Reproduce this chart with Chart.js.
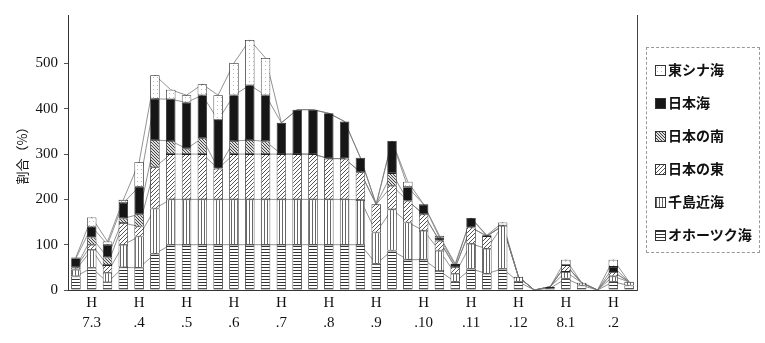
<!DOCTYPE html>
<html>
<head>
<meta charset="utf-8">
<script src="https://cdn.jsdelivr.net/npm/chart.js@4/dist/chart.umd.min.js"></script>
<style>
  body { margin: 0; background: #fff; }
  #wrap { position: relative; width: 765px; height: 343px; }
  #legend {
    position: absolute; left: 646px; top: 47px; width: 114px; height: 206px;
    border: 1px dashed #999; box-sizing: border-box;
    font-family: "Noto Sans CJK JP", sans-serif; font-size: 14px; font-weight: bold; color: #111;
  }
  .item { position: absolute; left: 8px; height: 16px; line-height: 16px; white-space: nowrap; }
  .item canvas { vertical-align: -1px; margin-right: 2px; border: 1px solid #333; }
</style>
</head>
<body>
<div id="wrap">
  <canvas id="chart" width="765" height="343"></canvas>
  <div id="legend"></div>
</div>
<script>
// 旬ごとの値 (H7.3 上旬 .. H8.2 下旬)
const months = ['7.3', '.4', '.5', '.6', '.7', '.8', '.9', '.10', '.11', '.12', '8.1', '.2'];
const dekads = ['上旬', '中旬', '下旬'];
const yTicks = [0, 100, 200, 300, 400, 500];

const okhotsk    = [30, 49, 17, 50, 49, 80, 100, 100, 100, 100, 100, 100, 100, 100, 100, 100, 100, 100, 100, 58, 87, 67, 67, 42, 18, 47, 36, 47, 18, 0, 4, 25, 10, 0, 18, 10];
const chishima   = [15, 40, 21, 50, 69, 100, 100, 100, 100, 100, 100, 100, 100, 100, 100, 100, 100, 100, 99, 69, 91, 82, 64, 45, 18, 55, 55, 95, 11, 0, 3, 15, 6, 0, 12, 8];
const nihonEast  = [5, 11, 17, 48, 22, 91, 100, 100, 100, 68, 100, 100, 100, 100, 100, 100, 90, 90, 61, 62, 52, 48, 36, 22, 14, 36, 28, 0, 0, 0, 0, 15, 0, 0, 10, 0];
const nihonSouth = [0, 16, 17, 10, 27, 60, 29, 12, 35, 0, 29, 31, 28, 0, 0, 0, 0, 0, 0, 0, 28, 0, 0, 0, 0, 0, 0, 0, 0, 0, 0, 0, 0, 0, 0, 0];
const nihonSea   = [20, 24, 28, 34, 61, 91, 92, 102, 95, 107, 101, 121, 102, 69, 98, 98, 100, 82, 32, 0, 71, 30, 22, 7, 5, 21, 0, 0, 0, 0, 0, 0, 0, 0, 11, 0];
const eastChina  = [2, 20, 7, 7, 54, 52, 21, 16, 24, 55, 71, 100, 82, 0, 0, 0, 0, 0, 0, 0, 0, 12, 0, 4, 3, 0, 2, 7, 0, 0, 0, 12, 0, 0, 16, 0];

const categories = months.flatMap(m => dekads.map(d => 'H' + m + d));
const tickLabels = months.map(m => ['H', m]);

// hatch patterns
function makePattern(kind) {
    const c = document.createElement('canvas');
    const g = c.getContext('2d');
    c.width = 4; c.height = 4;
    g.fillStyle = '#fff';
    g.fillRect(0, 0, 4, 4);
    if (kind === 'h') {
        c.height = 3;
        g.fillStyle = '#fff'; g.fillRect(0, 0, 4, 3);
        g.fillStyle = '#333'; g.fillRect(0, 0, 4, 1);
    } else if (kind === 'v') {
        c.width = 3;
        g.fillStyle = '#fff'; g.fillRect(0, 0, 3, 4);
        g.fillStyle = '#666'; g.fillRect(0, 0, 1, 4);
    } else if (kind === 'fwd') {
        g.fillStyle = '#555';
        [[3, 0], [2, 1], [1, 2], [0, 3]].forEach(p => g.fillRect(p[0], p[1], 1, 1));
    } else if (kind === 'back') {
        c.width = 3; c.height = 3;
        g.fillStyle = '#ddd'; g.fillRect(0, 0, 3, 3);
        g.fillStyle = '#444';
        [[0, 0], [1, 1], [2, 2]].forEach(p => g.fillRect(p[0], p[1], 1, 1));
    } else if (kind === 'solid') {
        g.fillStyle = '#161616'; g.fillRect(0, 0, 4, 4);
    } else {
        g.fillStyle = '#bbb'; g.fillRect(1, 1, 1, 1);
    }
    return g.createPattern(c, 'repeat');
}

const series = [
    { label: 'オホーツク海', data: okhotsk, kind: 'h' },
    { label: '千島近海', data: chishima, kind: 'v' },
    { label: '日本の東', data: nihonEast, kind: 'fwd' },
    { label: '日本の南', data: nihonSouth, kind: 'back' },
    { label: '日本海', data: nihonSea, kind: 'solid' },
    { label: '東シナ海', data: eastChina, kind: 'dot' }
];

const datasets = [];
let running = categories.map(() => 0);
series.forEach((s, k) => {
    datasets.push({
        type: 'bar',
        label: s.label,
        data: s.data,
        backgroundColor: makePattern(s.kind),
        borderColor: '#222',
        borderWidth: 0.8,
        borderSkipped: false,
        barPercentage: 0.6,
        categoryPercentage: 1.0,
        stack: 'bars',
        order: 0
    });
    running = running.map((v, i) => v + s.data[i]);
    datasets.push({
        type: 'line',
        label: s.label + '_line',
        data: running.slice(),
        borderColor: '#777',
        borderWidth: 0.8,
        pointRadius: 0,
        tension: 0,
        stack: 'line' + k,
        order: 10
    });
});

new Chart(document.getElementById('chart'), {
    type: 'bar',
    data: { labels: categories, datasets: datasets },
    options: {
        responsive: false,
        animation: false,
        devicePixelRatio: 1,
        layout: { padding: { top: 12, right: 128, left: 0, bottom: 0 } },
        plugins: { legend: { display: false }, tooltip: { enabled: false } },
        scales: {
            x: {
                stacked: true,
                grid: { display: false },
                border: { color: '#333' },
                ticks: {
                    autoSkip: false,
                    maxRotation: 0,
                    color: '#111',
                    padding: -5,
                    font: { family: 'Liberation Serif', size: 15, lineHeight: 1.35 },
                    callback: (v, i) => (i % 3 === 1 ? tickLabels[(i - 1) / 3] : '')
                },
                afterFit: s => { s.height = 53; }
            },
            y: {
                stacked: true,
                min: 0,
                max: 607,
                afterBuildTicks: s => { s.ticks = yTicks.map(v => ({ value: v })); },
                grid: { drawOnChartArea: false, tickLength: 4, color: '#555' },
                border: { color: '#333' },
                ticks: { color: '#111', padding: 6, font: { family: 'Liberation Serif', size: 15 } },
                title: {
                    display: true,
                    text: '割合（%）',
                    color: '#111',
                    padding: { top: 14, bottom: 6 },
                    font: { family: 'Noto Sans CJK JP', size: 13 }
                },
                afterFit: s => { s.width = 68; }
            },
            yRight: {
                position: 'right',
                grid: { display: false },
                border: { color: '#444' },
                ticks: { display: false },
                afterFit: s => { s.width = 0; }
            }
        }
    }
});

// legend (top to bottom in reverse stacking order)
const legend = document.getElementById('legend');
series.slice().reverse().forEach((s, k) => {
    const item = document.createElement('div');
    item.className = 'item';
    item.style.top = (13 + k * 33) + 'px';
    const sw = document.createElement('canvas');
    sw.width = 9; sw.height = 9;
    const g = sw.getContext('2d');
    g.fillStyle = makePattern(s.kind);
    g.fillRect(0, 0, 9, 9);
    item.appendChild(sw);
    item.appendChild(document.createTextNode(s.label));
    legend.appendChild(item);
});
</script>
</body>
</html>
